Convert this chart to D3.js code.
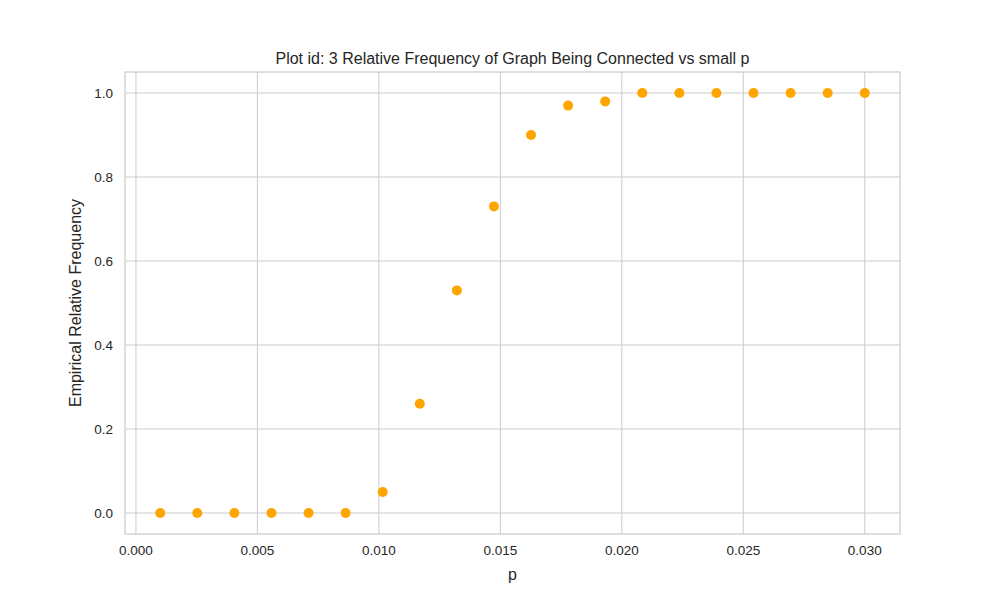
<!DOCTYPE html>
<html><head><meta charset="utf-8">
<script src="https://cdn.jsdelivr.net/npm/d3@7"></script>
<style>body{margin:0;background:#fff;font-family:"Liberation Sans",Arial,sans-serif;}</style>
</head><body><svg id="c" width="1000" height="600"></svg>
<script>
const pValues = d3.range(20).map(i => 0.001 + i * (0.029 / 19));
const freq = [0,0,0,0,0,0,0.05,0.26,0.53,0.73,0.9,0.97,0.98,1,1,1,1,1,1,1];
const xTicks = [0,0.005,0.01,0.015,0.02,0.025,0.03];
const yTicks = [0,0.2,0.4,0.6,0.8,1.0];

const svg = d3.select('#c');
const L = 125, R = 900, T = 72, B = 534;
const x = d3.scaleLinear().domain([-0.00045, 0.03145]).range([L, R]);
const y = d3.scaleLinear().domain([-0.05, 1.05]).range([B, T]);

const g = svg.append('g');
g.selectAll('.gx').data(xTicks).enter().append('line')
  .attr('x1', d => x(d)).attr('x2', d => x(d)).attr('y1', T).attr('y2', B)
  .attr('stroke', '#cccccc').attr('stroke-width', 1);
g.selectAll('.gy').data(yTicks).enter().append('line')
  .attr('y1', d => y(d)).attr('y2', d => y(d)).attr('x1', L).attr('x2', R)
  .attr('stroke', '#cccccc').attr('stroke-width', 1);
g.append('rect').attr('x', L).attr('y', T).attr('width', R - L).attr('height', B - T)
  .attr('fill', 'none').attr('stroke', '#cccccc').attr('stroke-width', 1.25);

g.selectAll('.xt').data(xTicks).enter().append('text')
  .attr('x', d => x(d)).attr('y', B + 21).attr('text-anchor', 'middle')
  .attr('font-size', 13.5).attr('fill', '#262626').text(d => d.toFixed(3));
g.selectAll('.yt').data(yTicks).enter().append('text')
  .attr('x', L - 12).attr('y', d => y(d) + 5).attr('text-anchor', 'end')
  .attr('font-size', 13.5).attr('fill', '#262626').text(d => d.toFixed(1));

g.selectAll('circle').data(pValues).enter().append('circle')
  .attr('cx', d => x(d)).attr('cy', (d, i) => y(freq[i])).attr('r', 5)
  .attr('fill', 'orange');

svg.append('text').attr('x', (L + R) / 2).attr('y', 64).attr('text-anchor', 'middle')
  .attr('font-size', 16).attr('fill', '#262626')
  .text('Plot id: 3 Relative Frequency of Graph Being Connected vs small p');
svg.append('text').attr('x', (L + R) / 2).attr('y', 580).attr('text-anchor', 'middle')
  .attr('font-size', 16).attr('fill', '#262626').text('p');
svg.append('text').attr('transform', `translate(81,${(T + B) / 2}) rotate(-90)`)
  .attr('text-anchor', 'middle').attr('font-size', 16).attr('fill', '#262626')
  .text('Empirical Relative Frequency');
</script></body></html>
